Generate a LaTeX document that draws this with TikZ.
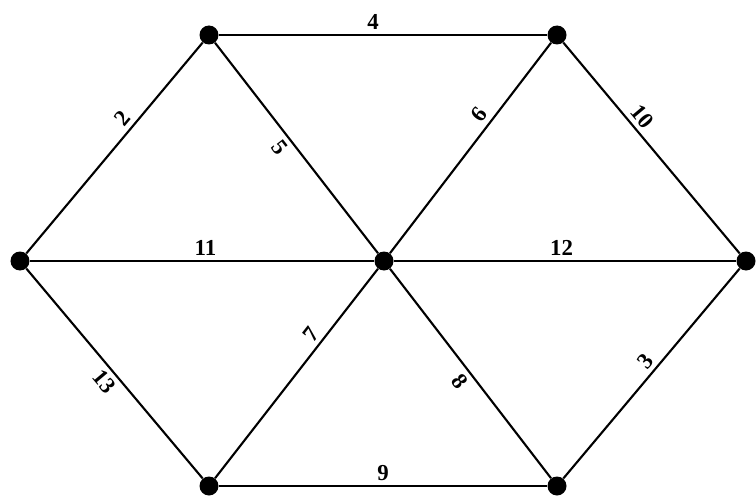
\documentclass[tikz,border=0pt]{standalone}
\usepackage{fontspec}
\setmainfont{Liberation Serif}
\usepackage{tikz}

\begin{document}
\begin{tikzpicture}[dot/.style={circle,fill=black,inner sep=0pt,minimum size=0.38cm},
  edge/.style={line width=1.2pt},
  lbl/.style={font=\bfseries\fontsize{13}{15}\selectfont,inner sep=2.5pt,sloped}]
\useasboundingbox (0,0) rectangle (15.12,9.92);
\node[dot] (tl) at (4.18,9.22) {};
\node[dot] (tr) at (11.14,9.22) {};
\node[dot] (l) at (0.40,4.70) {};
\node[dot] (c) at (7.68,4.70) {};
\node[dot] (r) at (14.92,4.70) {};
\node[dot] (bl) at (4.18,0.20) {};
\node[dot] (br) at (11.14,0.20) {};
\foreach \a/\b/\w/\p/\s in {tl/tr/4/0.47/above, l/tl/2/0.6/above, tl/c/5/0.46/below,
  c/tr/6/0.62/above, tr/r/10/0.39/above, l/c/11/0.51/above, c/r/12/0.49/above,
  l/bl/13/0.5/below, bl/c/7/0.65/above, c/br/8/0.5/below, br/r/3/0.52/above,
  bl/br/9/0.5/above}
  {\draw[edge] (\a) -- node[lbl,pos=\p,\s] {\w} (\b);}
\end{tikzpicture}
\end{document}
